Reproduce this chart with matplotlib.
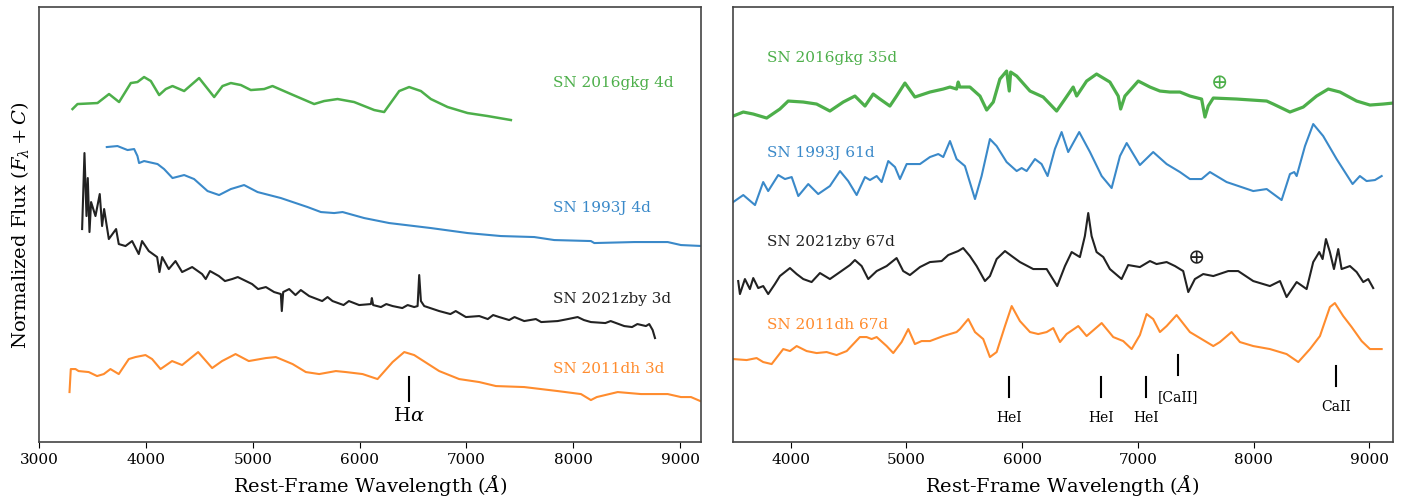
import matplotlib
matplotlib.use('Agg')
import matplotlib.pyplot as plt

plt.rcParams['font.family'] = 'DejaVu Serif'
plt.rcParams['mathtext.fontset'] = 'dejavuserif'

# ---- early-time spectra (left panel) ----
gkg_early_wave = [3313, 3360, 3547, 3655, 3749, 3859, 3921, 3983, 4046, 4124, 4186, 4249, 4358,
                  4498, 4639, 4717, 4795, 4889, 4982, 5107, 5185, 5357, 5575, 5668, 5794, 5949,
                  6137, 6230, 6371, 6464, 6574, 6667, 6824, 7011, 7198, 7416]
gkg_early_flux = [3.30, 3.35, 3.36, 3.45, 3.37, 3.56, 3.57, 3.62, 3.58, 3.44, 3.50, 3.53, 3.48,
                  3.61, 3.42, 3.53, 3.56, 3.54, 3.49, 3.50, 3.53, 3.45, 3.35, 3.38, 3.40, 3.37,
                  3.29, 3.27, 3.48, 3.52, 3.48, 3.40, 3.32, 3.26, 3.23, 3.19]

j93_early_wave = [3634, 3734, 3828, 3890, 3921, 3936, 3983, 4109, 4170, 4249, 4358, 4451, 4577,
                  4685, 4795, 4919, 5045, 5263, 5513, 5638, 5762, 5841, 6043, 6277, 6667, 7011,
                  7323, 7635, 7822, 8165, 8197, 8571, 8884, 9008, 9211]
j93_early_flux = [2.92, 2.93, 2.89, 2.90, 2.83, 2.76, 2.78, 2.75, 2.70, 2.61, 2.64, 2.60, 2.48,
                  2.44, 2.50, 2.54, 2.47, 2.41, 2.32, 2.27, 2.26, 2.27, 2.21, 2.16, 2.11, 2.06,
                  2.03, 2.02, 1.99, 1.98, 1.96, 1.97, 1.97, 1.94, 1.93]

zby_early_wave = [3403, 3425, 3444, 3456, 3472, 3487, 3528, 3568, 3590, 3609, 3653, 3721, 3746,
                  3809, 3871, 3933, 3964, 4027, 4105, 4127, 4152, 4214, 4277, 4339, 4433, 4526,
                  4560, 4600, 4683, 4740, 4807, 4860, 4994, 5050, 5123, 5200, 5263, 5272, 5285,
                  5341, 5400, 5450, 5528, 5650, 5700, 5747, 5850, 5900, 5996, 6106, 6115, 6127,
                  6200, 6250, 6309, 6400, 6450, 6511, 6543, 6558, 6574, 6605, 6745, 6850, 6900,
                  6995, 7120, 7200, 7250, 7307, 7400, 7450, 7541, 7650, 7700, 7854, 7950, 8041,
                  8100, 8165, 8300, 8350, 8477, 8550, 8600, 8680, 8711, 8743, 8765]
zby_early_flux = [2.10, 2.86, 2.23, 2.61, 2.07, 2.37, 2.23, 2.45, 2.13, 2.30, 2.00, 2.10, 1.95,
                  1.93, 1.98, 1.85, 1.98, 1.88, 1.82, 1.67, 1.82, 1.70, 1.78, 1.67, 1.72, 1.65,
                  1.60, 1.68, 1.63, 1.58, 1.60, 1.62, 1.55, 1.50, 1.52, 1.47, 1.45, 1.28, 1.47,
                  1.50, 1.44, 1.49, 1.43, 1.38, 1.42, 1.38, 1.34, 1.38, 1.34, 1.35, 1.41, 1.34,
                  1.32, 1.35, 1.33, 1.31, 1.34, 1.32, 1.33, 1.64, 1.38, 1.33, 1.28, 1.25, 1.28,
                  1.22, 1.23, 1.20, 1.24, 1.22, 1.19, 1.22, 1.18, 1.20, 1.17, 1.18, 1.20, 1.22,
                  1.19, 1.17, 1.16, 1.18, 1.13, 1.12, 1.15, 1.13, 1.15, 1.09, 1.01]

dh_early_wave = [3285, 3297, 3341, 3370, 3465, 3543, 3606, 3668, 3746, 3840, 3902, 3996, 4058,
                 4137, 4245, 4339, 4489, 4620, 4713, 4839, 4963, 5123, 5216, 5373, 5497, 5622,
                 5778, 5872, 6028, 6168, 6309, 6418, 6511, 6745, 6932, 7120, 7276, 7541, 7854,
                 8072, 8165, 8220, 8416, 8634, 8884, 9008, 9102, 9189]
dh_early_flux = [0.47, 0.70, 0.70, 0.68, 0.67, 0.63, 0.65, 0.70, 0.65, 0.80, 0.82, 0.84, 0.80,
                 0.70, 0.78, 0.74, 0.87, 0.71, 0.78, 0.85, 0.78, 0.81, 0.82, 0.75, 0.67, 0.65,
                 0.68, 0.67, 0.65, 0.60, 0.77, 0.87, 0.84, 0.68, 0.60, 0.57, 0.53, 0.52, 0.48,
                 0.45, 0.39, 0.42, 0.47, 0.45, 0.45, 0.42, 0.42, 0.38]

# ---- late-time spectra (right panel) ----
gkg_late_wave = [3505, 3592, 3678, 3794, 3908, 3980, 4110, 4225, 4340, 4455, 4556, 4643, 4714,
                 4772, 4858, 4916, 4988, 5074, 5204, 5319, 5377, 5434, 5448, 5462, 5549, 5636,
                 5694, 5751, 5808, 5866, 5889, 5901, 5953, 6068, 6182, 6298, 6370, 6441, 6471,
                 6557, 6643, 6758, 6830, 6851, 6888, 7003, 7104, 7190, 7276, 7363, 7449, 7550,
                 7579, 7607, 7651, 7853, 8112, 8169, 8313, 8428, 8543, 8644, 8745, 8889, 9004,
                 9119, 9205]
gkg_late_flux = [3.23, 3.27, 3.25, 3.21, 3.30, 3.38, 3.37, 3.35, 3.28, 3.37, 3.43, 3.33, 3.45,
                 3.40, 3.33, 3.43, 3.56, 3.42, 3.47, 3.50, 3.52, 3.50, 3.57, 3.52, 3.52, 3.43,
                 3.29, 3.37, 3.60, 3.68, 3.48, 3.67, 3.63, 3.48, 3.42, 3.28, 3.40, 3.52, 3.43,
                 3.58, 3.65, 3.57, 3.43, 3.30, 3.43, 3.58, 3.52, 3.48, 3.47, 3.47, 3.43, 3.40,
                 3.22, 3.33, 3.41, 3.40, 3.38, 3.35, 3.27, 3.32, 3.43, 3.50, 3.47, 3.38, 3.34,
                 3.35, 3.36]

j93_late_wave = [3505, 3592, 3693, 3764, 3807, 3894, 3952, 4010, 4067, 4153, 4239, 4340, 4427,
                 4498, 4571, 4643, 4686, 4744, 4787, 4844, 4902, 4945, 5003, 5118, 5204, 5276,
                 5319, 5377, 5434, 5506, 5593, 5650, 5722, 5780, 5866, 5953, 5996, 6039, 6111,
                 6168, 6220, 6283, 6341, 6398, 6493, 6586, 6687, 6773, 6845, 6903, 7017, 7132,
                 7248, 7363, 7449, 7550, 7622, 7766, 7996, 8112, 8241, 8313, 8350, 8371, 8443,
                 8514, 8600, 8716, 8854, 8917, 8975, 9047, 9105]
j93_late_flux = [2.37, 2.44, 2.34, 2.57, 2.48, 2.64, 2.60, 2.62, 2.43, 2.55, 2.45, 2.53, 2.68,
                 2.58, 2.44, 2.62, 2.59, 2.63, 2.57, 2.78, 2.72, 2.60, 2.75, 2.75, 2.82, 2.85,
                 2.82, 2.98, 2.80, 2.73, 2.40, 2.63, 3.00, 2.93, 2.77, 2.68, 2.71, 2.68, 2.80,
                 2.75, 2.63, 2.90, 3.07, 2.87, 3.07, 2.87, 2.63, 2.51, 2.83, 2.96, 2.74, 2.87,
                 2.75, 2.67, 2.60, 2.60, 2.67, 2.57, 2.48, 2.50, 2.39, 2.65, 2.67, 2.63, 2.93,
                 3.15, 3.03, 2.80, 2.55, 2.63, 2.58, 2.59, 2.63]

zby_late_wave = [3548, 3563, 3606, 3649, 3678, 3721, 3764, 3807, 3865, 3908, 3995, 4053, 4110,
                 4182, 4254, 4340, 4427, 4513, 4556, 4614, 4671, 4744, 4830, 4916, 4973, 5031,
                 5118, 5204, 5305, 5362, 5448, 5491, 5549, 5607, 5679, 5722, 5780, 5852, 5910,
                 5981, 6096, 6212, 6303, 6370, 6428, 6499, 6542, 6571, 6600, 6643, 6701, 6758,
                 6859, 6916, 7017, 7104, 7161, 7248, 7320, 7391, 7435, 7492, 7564, 7651, 7780,
                 7866, 7996, 8140, 8227, 8284, 8371, 8457, 8514, 8566, 8595, 8624, 8658, 8693,
                 8730, 8759, 8831, 8889, 8946, 8989, 9032]
zby_late_flux = [1.58, 1.45, 1.60, 1.50, 1.61, 1.51, 1.53, 1.45, 1.55, 1.63, 1.71, 1.65, 1.60,
                 1.57, 1.66, 1.60, 1.67, 1.74, 1.79, 1.73, 1.60, 1.68, 1.73, 1.81, 1.68, 1.64,
                 1.72, 1.77, 1.78, 1.84, 1.88, 1.91, 1.83, 1.73, 1.58, 1.63, 1.80, 1.88, 1.83,
                 1.77, 1.70, 1.70, 1.53, 1.73, 1.87, 1.82, 2.03, 2.26, 2.03, 1.87, 1.82, 1.70,
                 1.60, 1.74, 1.72, 1.78, 1.75, 1.77, 1.73, 1.68, 1.47, 1.60, 1.65, 1.63, 1.68,
                 1.68, 1.58, 1.53, 1.58, 1.42, 1.57, 1.50, 1.77, 1.87, 1.80, 2.00, 1.87, 1.70,
                 1.90, 1.70, 1.73, 1.67, 1.57, 1.60, 1.51]

dh_late_wave = [3505, 3621, 3707, 3764, 3837, 3937, 3995, 4053, 4139, 4225, 4312, 4398, 4485,
                4599, 4657, 4700, 4744, 4830, 4887, 4959, 5017, 5074, 5132, 5204, 5319, 5434,
                5463, 5535, 5593, 5664, 5722, 5780, 5852, 5910, 5981, 6068, 6139, 6212, 6269,
                6327, 6384, 6485, 6557, 6687, 6787, 6873, 6946, 7017, 7075, 7132, 7190, 7248,
                7334, 7449, 7550, 7651, 7708, 7809, 7881, 7996, 8140, 8284, 8385, 8486, 8572,
                8658, 8701, 8773, 8846, 8932, 9004, 9105]
dh_late_flux = [0.80, 0.79, 0.81, 0.77, 0.75, 0.90, 0.88, 0.93, 0.88, 0.86, 0.87, 0.84, 0.88,
                1.02, 1.02, 1.00, 1.02, 0.93, 0.86, 0.97, 1.10, 0.95, 0.98, 0.98, 1.03, 1.07,
                1.10, 1.20, 1.07, 1.00, 0.82, 0.87, 1.13, 1.33, 1.18, 1.07, 1.05, 1.07, 1.11,
                0.97, 1.05, 1.13, 1.03, 1.16, 1.02, 0.98, 0.90, 1.04, 1.25, 1.20, 1.07, 1.13,
                1.24, 1.07, 1.00, 0.93, 0.97, 1.07, 0.97, 0.93, 0.90, 0.85, 0.77, 0.90, 1.03,
                1.32, 1.36, 1.23, 1.12, 0.98, 0.90, 0.90]

early_labels = ['SN 2016gkg 4d', 'SN 1993J 4d', 'SN 2021zby 3d', 'SN 2011dh 3d']
late_labels = ['SN 2016gkg 35d', 'SN 1993J 61d', 'SN 2021zby 67d', 'SN 2011dh 67d']
label_flux_early = [3.57, 2.32, 1.41, 0.71]
label_flux_late = [3.82, 2.87, 1.98, 1.15]

line_names = ['HeI', 'HeI', 'HeI', '[CaII]', 'CaII']
line_waves = [5885, 6685, 7070, 7345, 8715]
line_top = [0.62, 0.62, 0.62, 0.84, 0.73]
line_bottom = [0.42, 0.42, 0.42, 0.64, 0.53]
line_text_y = [0.22, 0.22, 0.22, 0.43, 0.33]

colors = ['#4daf4a', '#3a89c9', '#222222', '#ff8c2e']

fig = plt.figure(figsize=(14.1, 5.02), dpi=100)
ax1 = fig.add_axes([0.0277, 0.118, 0.4698, 0.866])
ax2 = fig.add_axes([0.5196, 0.118, 0.4681, 0.866])

early = [(gkg_early_wave, gkg_early_flux), (j93_early_wave, j93_early_flux),
         (zby_early_wave, zby_early_flux), (dh_early_wave, dh_early_flux)]
late = [(gkg_late_wave, gkg_late_flux), (j93_late_wave, j93_late_flux),
        (zby_late_wave, zby_late_flux), (dh_late_wave, dh_late_flux)]

for i, (w, f) in enumerate(early):
    ax1.plot(w, f, color=colors[i], lw=1.5 if i != 0 else 1.8)
    ax1.text(7807, label_flux_early[i], early_labels[i], color=colors[i],
             fontsize=11, ha='left', va='center')

for i, (w, f) in enumerate(late):
    ax2.plot(w, f, color=colors[i], lw=1.5 if i != 0 else 2.3)
    ax2.text(3799, label_flux_late[i], late_labels[i], color=colors[i],
             fontsize=11, ha='left', va='center')

# H-alpha marker
ax1.plot([6464, 6464], [0.38, 0.62], color='k', lw=1.5)
ax1.text(6464, 0.24, r'H$\alpha$', fontsize=14, ha='center', va='center')

# line markers on the late-time panel
for name, w, top, bot, ty in zip(line_names, line_waves, line_top, line_bottom, line_text_y):
    ax2.plot([w, w], [bot, top], color='k', lw=1.5)
    ax2.text(w, ty, name, fontsize=10, ha='center', va='center')

# telluric symbols
ax2.text(7694, 3.56, r'$\oplus$', color=colors[0], fontsize=15, ha='center', va='center')
ax2.text(7501, 1.81, r'$\oplus$', color=colors[2], fontsize=15, ha='center', va='center')

ax1.set_xlim(3000, 9200)
ax2.set_xlim(3500, 9200)
for ax in (ax1, ax2):
    ax.set_ylim(-0.027, 4.32)
    ax.set_yticks([])
    ax.tick_params(axis='x', labelsize=11, length=4, direction='out')
    ax.set_xlabel(r'Rest-Frame Wavelength ($\AA$)', fontsize=14)
    for s in ax.spines.values():
        s.set_color('#444444')
        s.set_linewidth(1.2)
ax2.set_xticks([4000, 5000, 6000, 7000, 8000, 9000])
ax1.set_ylabel(r'Normalized Flux ($F_\lambda + C$)', fontsize=14, labelpad=6)

fig.savefig('out.png', dpi=100)
